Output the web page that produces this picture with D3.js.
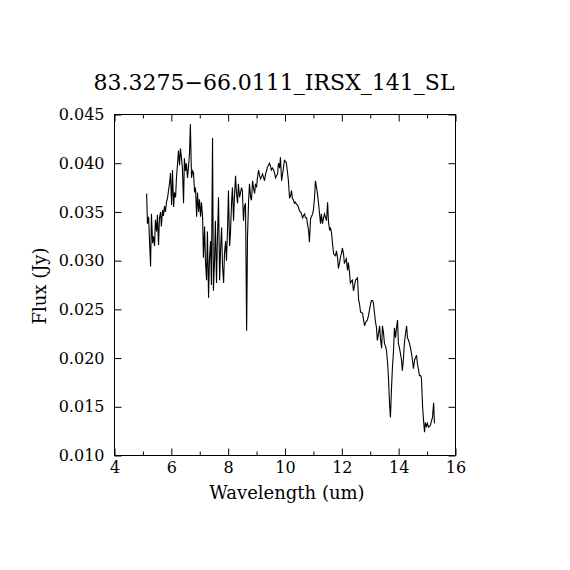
<!DOCTYPE html>
<html>
<head>
<meta charset="utf-8">
<script src="https://cdn.jsdelivr.net/npm/d3@7"></script>
<style>
  html, body { margin: 0; padding: 0; background: #fff; }
  text { font-family: "DejaVu Serif", "Liberation Serif", serif; fill: #000; }
</style>
</head>
<body>
<svg id="chart" width="570" height="570"></svg>
<script>
const title = "83.3275\u221266.0111_IRSX_141_SL";
const xLabel = "Wavelength (um)";
const yLabel = "Flux (Jy)";
const xTicks = [4, 6, 8, 10, 12, 14, 16];
const xMinorTicks = [5, 7, 9, 11, 13, 15];
const yTicks = [0.010, 0.015, 0.020, 0.025, 0.030, 0.035, 0.040, 0.045];

const wavelength = [
  5.13,5.16,5.20,5.23,5.27,5.30,5.34,5.37,5.41,5.44,5.48,5.51,5.55,5.58,5.62,5.65,5.69,5.72,5.76,5.79,
  5.83,5.87,5.90,5.94,5.97,6.01,6.04,6.08,6.11,6.15,6.18,6.22,6.25,6.29,6.32,6.36,6.39,6.43,6.46,6.50,
  6.53,6.57,6.60,6.64,6.67,6.71,6.75,6.78,6.82,6.85,6.89,6.92,6.96,6.99,7.03,7.06,7.10,7.13,7.17,7.20,
  7.24,7.27,7.31,7.34,7.38,7.41,7.45,7.48,7.52,7.55,7.59,7.62,7.66,7.70,7.73,7.77,7.80,7.84,7.87,7.91,
  7.94,7.98,8.01,8.05,8.08,8.12,8.15,8.19,8.22,8.26,8.29,8.33,8.36,8.40,8.43,8.47,8.50,8.54,8.57,8.61,
  8.65,8.68,8.72,8.75,8.79,8.82,8.86,8.89,8.93,8.96,9.00,9.03,9.07,9.10,9.14,9.17,9.21,9.24,9.28,9.31,
  9.35,9.38,9.42,9.45,9.49,9.52,9.56,9.60,9.63,9.67,9.70,9.74,9.77,9.81,9.84,9.88,9.91,9.95,9.98,10.02,
  10.05,10.09,10.12,10.16,10.19,10.23,10.26,10.30,10.33,10.37,10.40,10.44,10.47,10.51,10.55,10.58,10.62,10.65,10.69,10.72,
  10.76,10.79,10.83,10.86,10.90,10.93,10.97,11.00,11.04,11.07,11.11,11.14,11.18,11.21,11.25,11.28,11.32,11.35,11.39,11.42,
  11.46,11.50,11.53,11.57,11.60,11.64,11.67,11.71,11.74,11.78,11.81,11.85,11.88,11.92,11.95,11.99,12.02,12.06,12.09,12.13,
  12.16,12.20,12.23,12.27,12.30,12.34,12.37,12.41,12.45,12.48,12.52,12.55,12.59,12.62,12.66,12.69,12.73,12.76,12.80,12.83,
  12.87,12.90,12.94,12.97,13.01,13.04,13.08,13.11,13.15,13.18,13.22,13.25,13.29,13.33,13.36,13.40,13.43,13.47,13.50,13.54,
  13.57,13.61,13.64,13.68,13.71,13.75,13.78,13.82,13.85,13.89,13.92,13.96,13.99,14.03,14.06,14.10,14.13,14.17,14.20,14.24,
  14.28,14.31,14.35,14.38,14.42,14.45,14.49,14.52,14.56,14.59,14.63,14.66,14.70,14.73,14.77,14.80,14.84,14.87,14.91,14.94,
  14.98,15.01,15.05,15.08,15.12,15.15,15.19,15.23,15.26
];

const flux = [
  0.0369,0.0338,0.0345,0.0322,0.0294,0.0348,0.0318,0.0325,0.0315,0.0342,0.0330,0.0347,0.0316,0.0343,0.0350,0.0335,0.0352,0.0346,0.0356,0.0350,
  0.0360,0.0365,0.0372,0.0380,0.0390,0.0357,0.0393,0.0355,0.0370,0.0365,0.0385,0.0400,0.0413,0.0398,0.0415,0.0405,0.0395,0.0359,0.0405,0.0392,
  0.0400,0.0385,0.0395,0.0410,0.0440,0.0385,0.0392,0.0390,0.0370,0.0375,0.0345,0.0370,0.0350,0.0363,0.0345,0.0360,0.0345,0.0303,0.0335,0.0300,
  0.0280,0.0330,0.0262,0.0300,0.0320,0.0275,0.0426,0.0269,0.0300,0.0341,0.0277,0.0320,0.0365,0.0280,0.0310,0.0334,0.0295,0.0277,0.0307,0.0320,
  0.0300,0.0334,0.0372,0.0315,0.0328,0.0360,0.0375,0.0341,0.0365,0.0387,0.0370,0.0359,0.0379,0.0365,0.0369,0.0375,0.0372,0.0341,0.0355,0.0359,
  0.0228,0.0324,0.0362,0.0379,0.0365,0.0362,0.0382,0.0375,0.0369,0.0378,0.0376,0.0385,0.0393,0.0388,0.0384,0.0386,0.0389,0.0386,0.0382,0.0388,
  0.0392,0.0396,0.0398,0.0400,0.0397,0.0393,0.0395,0.0393,0.0390,0.0385,0.0387,0.0389,0.0400,0.0395,0.0406,0.0382,0.0388,0.0396,0.0403,0.0402,
  0.0400,0.0390,0.0382,0.0364,0.0366,0.0372,0.0364,0.0362,0.0359,0.0360,0.0358,0.0357,0.0355,0.0351,0.0350,0.0348,0.0344,0.0346,0.0348,0.0344,
  0.0344,0.0338,0.0331,0.0319,0.0343,0.0345,0.0348,0.0352,0.0365,0.0382,0.0375,0.0369,0.0359,0.0350,0.0338,0.0348,0.0338,0.0343,0.0348,0.0345,
  0.0341,0.0360,0.0340,0.0331,0.0334,0.0328,0.0318,0.0307,0.0306,0.0305,0.0310,0.0303,0.0292,0.0298,0.0303,0.0308,0.0313,0.0307,0.0297,0.0300,
  0.0302,0.0290,0.0298,0.0288,0.0277,0.0279,0.0280,0.0269,0.0275,0.0280,0.0281,0.0283,0.0260,0.0256,0.0247,0.0247,0.0246,0.0240,0.0233,0.0236,
  0.0238,0.0239,0.0244,0.0249,0.0255,0.0259,0.0259,0.0257,0.0246,0.0238,0.0231,0.0218,0.0225,0.0233,0.0220,0.0210,0.0233,0.0225,0.0215,0.0212,
  0.0208,0.0195,0.0180,0.0153,0.0139,0.0170,0.0190,0.0208,0.0231,0.0221,0.0230,0.0239,0.0215,0.0210,0.0205,0.0198,0.0187,0.0200,0.0215,0.0225,
  0.0233,0.0221,0.0218,0.0215,0.0210,0.0205,0.0197,0.0189,0.0198,0.0200,0.0203,0.0194,0.0188,0.0182,0.0182,0.0180,0.0151,0.0138,0.0124,0.0134,
  0.0130,0.0133,0.0129,0.0130,0.0131,0.0135,0.0139,0.0154,0.0133
];

const svg = d3.select("#chart");
const frame = { left: 114.5, top: 114.5, width: 341, height: 341 };

const xScale = d3.scaleLinear().domain([4, 16]).range([frame.left, frame.left + frame.width]);
const yScale = d3.scaleLinear().domain([0.010, 0.045]).range([frame.top + frame.height, frame.top]);

const g = svg.append("g");

// Data line
const pts = wavelength.map((w, i) => [w, flux[i]]);
g.append("path")
  .datum(pts)
  .attr("fill", "none")
  .attr("stroke", "#000")
  .attr("stroke-width", 1.1)
  .attr("d", d3.line().x(d => xScale(d[0])).y(d => yScale(d[1])));

// Frame
g.append("rect")
  .attr("x", xScale(4)).attr("y", yScale(0.045))
  .attr("width", xScale(16) - xScale(4)).attr("height", yScale(0.010) - yScale(0.045))
  .attr("fill", "none").attr("stroke", "#000").attr("stroke-width", 1);

// Axes with inward ticks
const axBottom = d3.axisBottom(xScale).tickValues(xTicks).tickSize(-7).tickPadding(6).tickFormat(d3.format("d"));
const axTop = d3.axisTop(xScale).tickValues(xTicks).tickSize(-7).tickFormat("");
const axBottomMinor = d3.axisBottom(xScale).tickValues(xMinorTicks).tickSize(-4).tickFormat("");
const axTopMinor = d3.axisTop(xScale).tickValues(xMinorTicks).tickSize(-4).tickFormat("");
const axLeft = d3.axisLeft(yScale).tickValues(yTicks).tickSize(-7).tickPadding(10).tickFormat(d3.format(".3f"));
const axRight = d3.axisRight(yScale).tickValues(yTicks).tickSize(-7).tickFormat("");

function styleAxis(sel) {
  sel.select(".domain").remove();
  sel.selectAll("line").attr("stroke", "#000");
  sel.selectAll("text").style("font-family", "'DejaVu Serif', serif").style("font-size", "16px").attr("fill", "#000");
}

g.append("g").attr("transform", `translate(0,${yScale(0.010)})`).call(axBottom).call(styleAxis);
g.append("g").attr("transform", `translate(0,${yScale(0.010)})`).call(axBottomMinor).call(styleAxis);
g.append("g").attr("transform", `translate(0,${yScale(0.045)})`).call(axTop).call(styleAxis);
g.append("g").attr("transform", `translate(0,${yScale(0.045)})`).call(axTopMinor).call(styleAxis);
g.append("g").attr("transform", `translate(${xScale(4)},0)`).call(axLeft).call(styleAxis);
g.append("g").attr("transform", `translate(${xScale(16)},0)`).call(axRight).call(styleAxis);

// Title and labels
svg.append("text")
  .attr("x", 274).attr("y", 90)
  .attr("text-anchor", "middle")
  .style("font-size", "22px")
  .text(title);

svg.append("text")
  .attr("x", 287).attr("y", 499)
  .attr("text-anchor", "middle")
  .style("font-size", "18px")
  .text(xLabel);

svg.append("text")
  .attr("transform", `translate(46,286) rotate(-90)`)
  .attr("text-anchor", "middle")
  .style("font-size", "18px")
  .text(yLabel);
</script>
</body>
</html>
